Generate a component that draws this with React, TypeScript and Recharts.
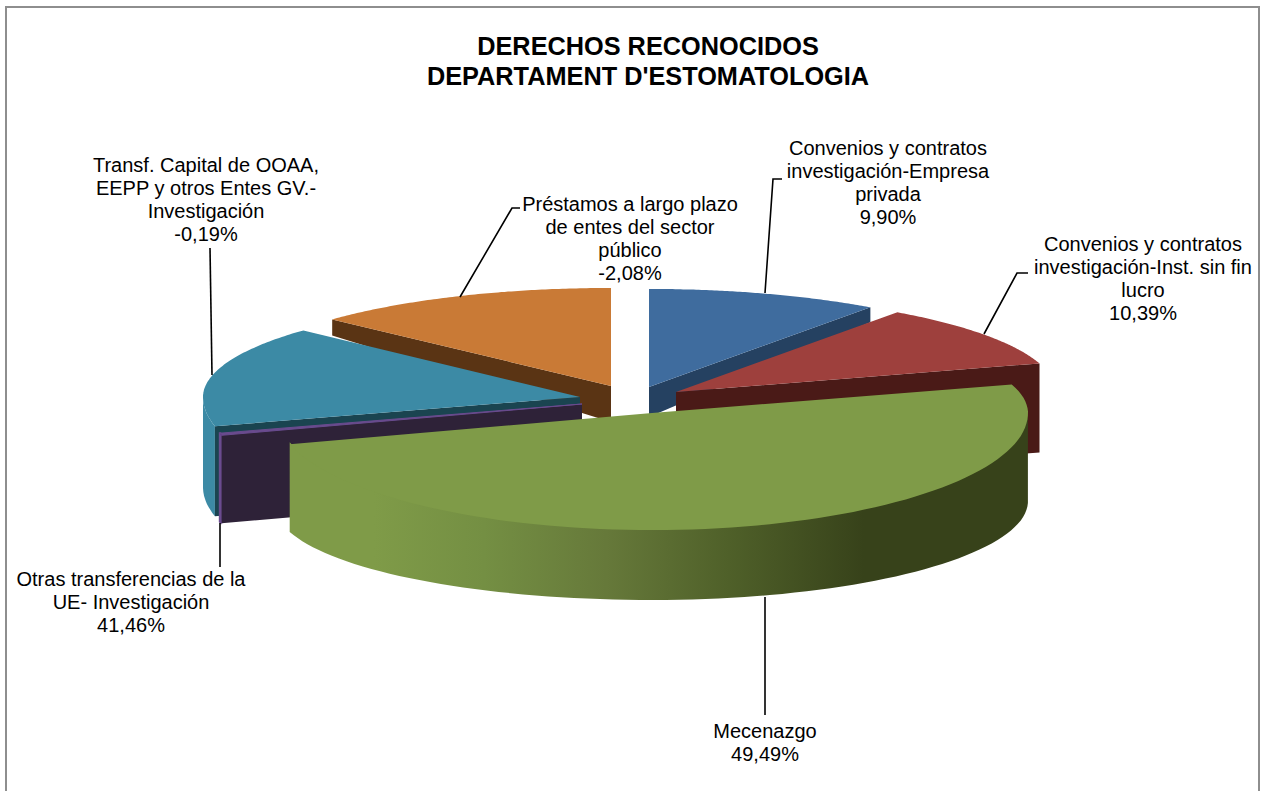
import React from 'react';
import { PieChart, Pie } from 'recharts';

const FONT = '"Liberation Sans", Arial, sans-serif';

const titleLines = ['DERECHOS RECONOCIDOS', "DEPARTAMENT D'ESTOMATOLOGIA"];
const names = ['Empresa', 'SinFin', 'Mecenazgo', 'UE', 'GV', 'Prestamos'];
// Sweep of each slice (share of the full turn, %)
const shares = [9.9, 10.39, 50.4, 0.3, 15.9, 13.11];
const labelTexts = [
  ['Convenios y contratos', 'investigación-Empresa', 'privada', '9,90%'],
  ['Convenios y contratos', 'investigación-Inst. sin fin', 'lucro', '10,39%'],
  ['Mecenazgo', '49,49%'],
  ['Otras transferencias de la', 'UE- Investigación', '41,46%'],
  ['Transf. Capital de OOAA,', 'EEPP y otros Entes GV.-', 'Investigación', '-0,19%'],
  ['Préstamos a largo plazo', 'de entes del sector', 'público', '-2,08%'],
];
const data = names.map((name, i) => ({ name, share: shares[i] }));

// ---- styling / layout, separate from the data ----
const CX = 640;
const CY = 395;
const R = 380;
const BACK = 0.258;
const FRONT = 0.308;
const paintOrder = [5, 0, 1, 4, 3, 2];

type Geo = {
  dx: number; dy: number; rx: number; top: string; dark: string; wall: string;
  rimDepth: number; apexDepth: number; cut: 'start' | 'end' | 'none';
};
const geo: Geo[] = [
  { dx: 9, dy: -8, rx: 380, top: '#3f6c9e', dark: '#254161', wall: '#254161', rimDepth: 15, apexDepth: 30, cut: 'end' },
  { dx: 36, dy: -3, rx: 380, top: '#9e403d', dark: '#4a1a17', wall: '#4a1a17', rimDepth: 89, apexDepth: 89, cut: 'end' },
  { dx: 12, dy: 18, rx: 376, top: '#7f9b48', dark: '#37421a', wall: 'url(#greenWall)', rimDepth: 88, apexDepth: 88, cut: 'none' },
  { dx: -58, dy: 9, rx: 374, top: '#6a4b8e', dark: '#2e2238', wall: '#6a4b8e', rimDepth: 88, apexDepth: 88, cut: 'start' },
  { dx: -60, dy: 2, rx: 377, top: '#3c8aa5', dark: '#1a4450', wall: '#3c8aa5', rimDepth: 90, apexDepth: 90, cut: 'start' },
  { dx: -29, dy: -9, rx: 380, top: '#c97a36', dark: '#5a3414', wall: '#5a3414', rimDepth: 16, apexDepth: 36, cut: 'start' },
];

const gradientStops = [
  [0, '#7f9b48'],
  [0.115, '#7f9b48'],
  [0.263, '#748f43'],
  [0.428, '#66793a'],
  [0.594, '#4f6029'],
  [0.776, '#37421a'],
  [1, '#37421a'],
] as const;

const labelLayout = [
  { x: 888, y: 155, lead: '765,293 773,179 782,179' },
  { x: 1143, y: 251, lead: '984,334 1017,273 1028,273' },
  { x: 765, y: 738, lead: '765,597 765,715' },
  { x: 131, y: 586, lead: '220,523 220,567' },
  { x: 206, y: 172, lead: '210,248 212,375' },
  { x: 630, y: 211, lead: '460,297 512,208 520,208' },
];

const rad = (d: number) => (d * Math.PI) / 180;

function rim(g: Geo, cx: number, cy: number, a: number, radius: number) {
  const s = Math.sin(rad(a));
  const ry = radius * (s > 0 ? BACK : FRONT);
  return { x: cx + g.dx + (g.rx / R) * radius * Math.cos(rad(a)), y: cy + g.dy - ry * s };
}

function wallDepth(i: number, a: number) {
  const g = geo[i];
  if (i === 2) {
    const side = Math.cos(rad(a)) > 0 ? 88 : 94;
    return side - (side - 70) * Math.abs(Math.sin(rad(a)));
  }
  return g.rimDepth;
}

const toPath = (pts: { x: number; y: number }[]) =>
  'M' + pts.map((p) => `${p.x.toFixed(1)},${p.y.toFixed(1)}`).join('L') + 'Z';

function Slice(props: any, i: number) {
  const { cx, cy, outerRadius, startAngle, endAngle } = props;
  const g = geo[i];
  const apex = { x: cx + g.dx, y: cy + g.dy };
  const steps = 90;
  const arc: { x: number; y: number; a: number }[] = [];
  for (let k = 0; k <= steps; k++) {
    const a = startAngle + ((endAngle - startAngle) * k) / steps;
    arc.push({ ...rim(g, cx, cy, a, outerRadius), a });
  }
  const front = arc.filter((p) => Math.sin(rad(p.a)) <= 0.001);
  // the wall's upper edge tucks under the top face so no seam shows between them
  const tuck = i === 2 ? 2 : 0;
  const wallPts = [
    ...front.map((p) => ({ x: p.x, y: p.y - tuck })),
    ...[...front].reverse().map((p) => ({ x: p.x, y: p.y + wallDepth(i, p.a) })),
  ];
  let cutPath = '';
  if (g.cut !== 'none') {
    const p = g.cut === 'start' ? arc[0] : arc[arc.length - 1];
    cutPath = toPath([
      apex,
      p,
      { x: p.x, y: p.y + g.rimDepth },
      { x: apex.x, y: apex.y + g.apexDepth },
    ]);
  }
  return (
    <g>
      {i === 2 && (
        <defs>
          <linearGradient id="greenWall" gradientUnits="userSpaceOnUse" x1="289" x2="1030" y1="0" y2="0">
            {gradientStops.map(([o, c]) => (
              <stop key={o} offset={o} stopColor={c} />
            ))}
          </linearGradient>
        </defs>
      )}
      {front.length > 1 && (
        <path d={toPath(wallPts)} fill={g.wall} stroke={i === 3 ? g.wall : 'none'} strokeWidth={i === 3 ? 2 : 0} />
      )}
      {cutPath && <path d={cutPath} fill={g.dark} />}
      <path
        d={toPath([apex, ...arc])}
        fill={g.top}
        stroke={i === 3 ? g.top : 'none'}
        strokeWidth={i === 3 ? 1 : 0}
      />
    </g>
  );
}

function renderLabel(props: any) {
  const i = props.index as number;
  const l = labelLayout[i];
  return (
    <g key={i}>
      <polyline points={l.lead} fill="none" stroke="#000" strokeWidth={1.6} />
      <text textAnchor="middle" fontFamily={FONT} fontSize={20} fill="#000">
        {labelTexts[i].map((t, k) => (
          <tspan key={k} x={l.x} y={l.y + k * 23}>{t}</tspan>
        ))}
      </text>
    </g>
  );
}

export default function App() {
  return (
    <div style={{ position: 'fixed', left: 0, top: 0, width: 1262, height: 791, overflow: 'hidden', background: '#fff' }}>
      <div style={{ position: 'absolute', left: 5, top: 6, width: 1251, height: 820, border: '2px solid #8e8e8e' }} />
      <div
        style={{
          position: 'absolute', left: 0, width: 1296, top: 31, textAlign: 'center',
          fontFamily: FONT, fontWeight: 700, fontSize: 25.3, lineHeight: '30px', color: '#000',
        }}
      >
        {titleLines.map((t) => (
          <div key={t}>{t}</div>
        ))}
      </div>
      <div style={{ position: 'absolute', left: 0, top: 0 }}>
        <PieChart width={1262} height={791} margin={{ top: 0, right: 0, bottom: 0, left: 0 }}>
          {paintOrder.map((idx) => (
            <Pie
              key={idx}
              data={data}
              dataKey="share"
              nameKey="name"
              cx={CX}
              cy={CY}
              innerRadius={0}
              outerRadius={R}
              startAngle={90}
              endAngle={-270}
              stroke="none"
              isAnimationActive={false}
              labelLine={false}
              label={idx === 2 ? renderLabel : false}
              shape={(p: any) => (p.name === names[idx] ? Slice(p, idx) : <g />)}
            />
          ))}
        </PieChart>
      </div>
    </div>
  );
}
